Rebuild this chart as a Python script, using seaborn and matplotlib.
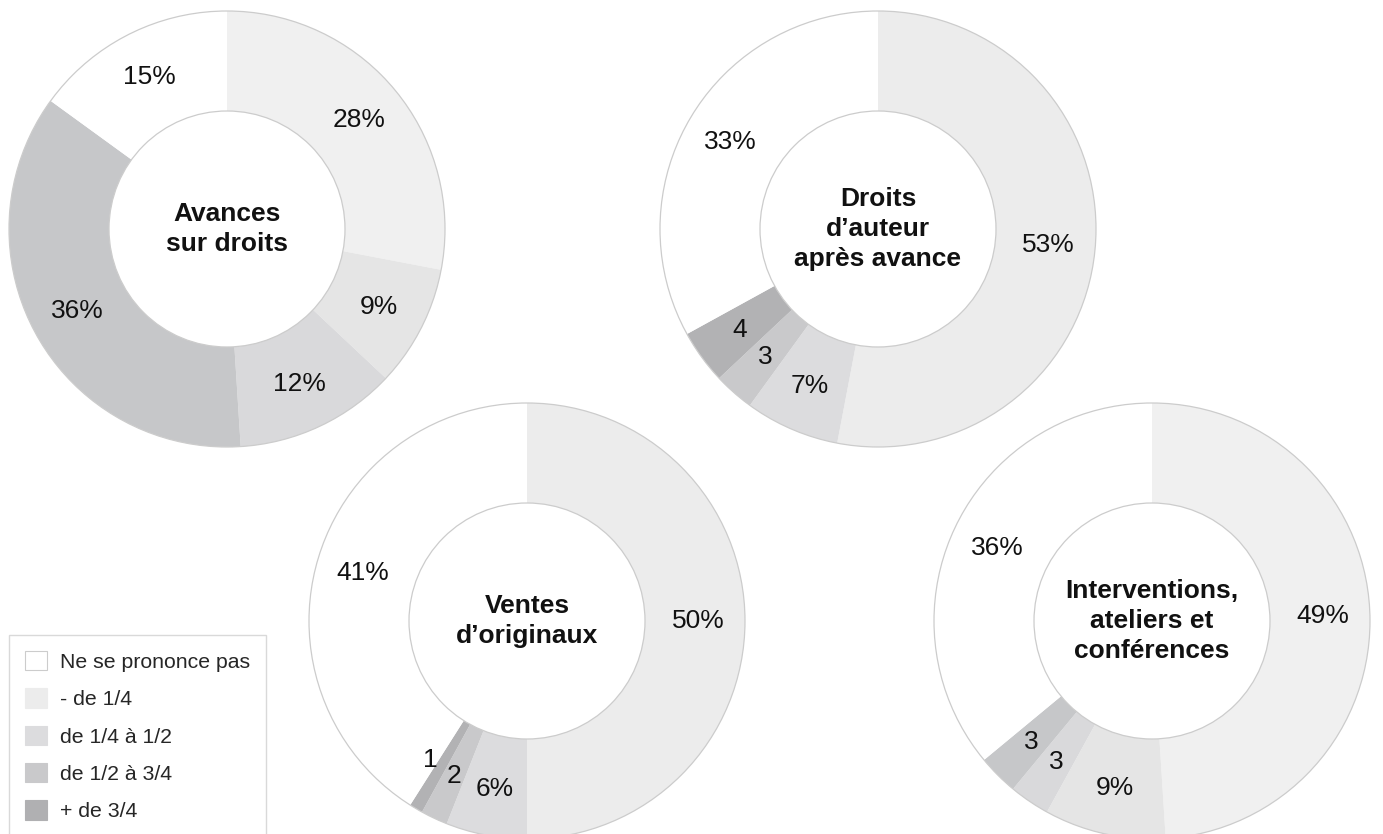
import matplotlib
matplotlib.use("Agg")
import matplotlib.pyplot as plt
import numpy as np
import seaborn as sns
from matplotlib.patches import Circle, Patch

sns.set_theme(style="white")
plt.rcParams["font.family"] = ["Liberation Sans", "DejaVu Sans"]

# data: share of income per source (order = clockwise from 12 o'clock)
titles = [
    "Avances\nsur droits",
    "Droits\nd’auteur\naprès avance",
    "Ventes\nd’originaux",
    "Interventions,\nateliers et\nconférences",
]
avances = [28, 9, 12, 36, 15]
droits_auteur = [53, 7, 3, 4, 33]
ventes = [50, 6, 2, 1, 41]
interventions = [49, 9, 3, 3, 36]
legend_labels = ["Ne se prononce pas", "- de 1/4", "de 1/4 à 1/2",
                 "de 1/2 à 3/4", "+ de 3/4"]

# styles
pal_a = ["#f0f0f0", "#e5e5e5", "#d9d9db", "#c6c7c9", "#ffffff"]
pal_b = ["#ececec", "#dcdcde", "#c9c9cb", "#b2b2b4", "#ffffff"]
legend_colors = ["#ffffff", "#ececec", "#dcdcde", "#c9c9cb", "#b0b0b2"]
outline = "#cccccc"

W, H = 1383, 834
R_OUT, R_IN = 218, 118
# (center x, center y) in pixels, palette, label nudges (px)
layout = [
    ((227, 229), pal_a, {}),
    ((878, 229), pal_b, {}),
    ((527, 621), pal_b, {3: (-10, -8)}),
    ((1152, 621), pal_a, {}),
]
series = [avances, droits_auteur, ventes, interventions]

fig = plt.figure(figsize=(W / 100, H / 100), dpi=100)

for title, vals, ((cx, cy), pal, nudges) in zip(titles, series, layout):
    pad = 1.02
    r = R_OUT * pad
    ax = fig.add_axes([(cx - r) / W, 1 - (cy + r) / H, 2 * r / W, 2 * r / H])
    wedges, _ = ax.pie(
        vals,
        colors=pal,
        startangle=90,
        counterclock=False,
        radius=1,
        wedgeprops=dict(width=(R_OUT - R_IN) / R_OUT, edgecolor="none",
                        linewidth=0),
    )
    ax.add_patch(Circle((0, 0), 1, fill=False, ec=outline, lw=0.9))
    ax.add_patch(Circle((0, 0), R_IN / R_OUT, fill=False, ec=outline, lw=0.9))
    for i, (w, v) in enumerate(zip(wedges, vals)):
        ang = np.deg2rad((w.theta1 + w.theta2) / 2)
        d = 171 / R_OUT
        txt = f"{v}%" if v >= 5 else f"{v}"
        dx, dy = nudges.get(i, (0, 0))
        ax.annotate(txt, (d * np.cos(ang), d * np.sin(ang)),
                    xytext=(dx * 0.72, -dy * 0.72), textcoords="offset points",
                    ha="center", va="center", fontsize=19, color="#111111")
    ax.text(0, 0, title, ha="center", va="center", fontsize=19,
            fontweight="bold", linespacing=1.32, color="#111111")
    ax.set_xlim(-pad, pad)
    ax.set_ylim(-pad, pad)
    ax.set_aspect("equal")
    ax.axis("off")

handles = [Patch(facecolor=c, edgecolor=outline if c == "#ffffff" else c,
                 linewidth=0.8) for c in legend_colors]
leg = fig.legend(
    handles, legend_labels,
    loc="upper left",
    bbox_to_anchor=(9 / W, 1 - 635 / H),
    borderaxespad=0,
    fontsize=15.3,
    handlelength=1.03,
    handleheight=1.03,
    handletextpad=0.62,
    labelspacing=0.77,
    borderpad=0.75,
    fancybox=False,
    frameon=True,
)
leg.get_frame().set_edgecolor("#d0d0d0")
leg.get_frame().set_linewidth(1)
leg.get_frame().set_facecolor("white")

fig.savefig("out.png", dpi=100)
